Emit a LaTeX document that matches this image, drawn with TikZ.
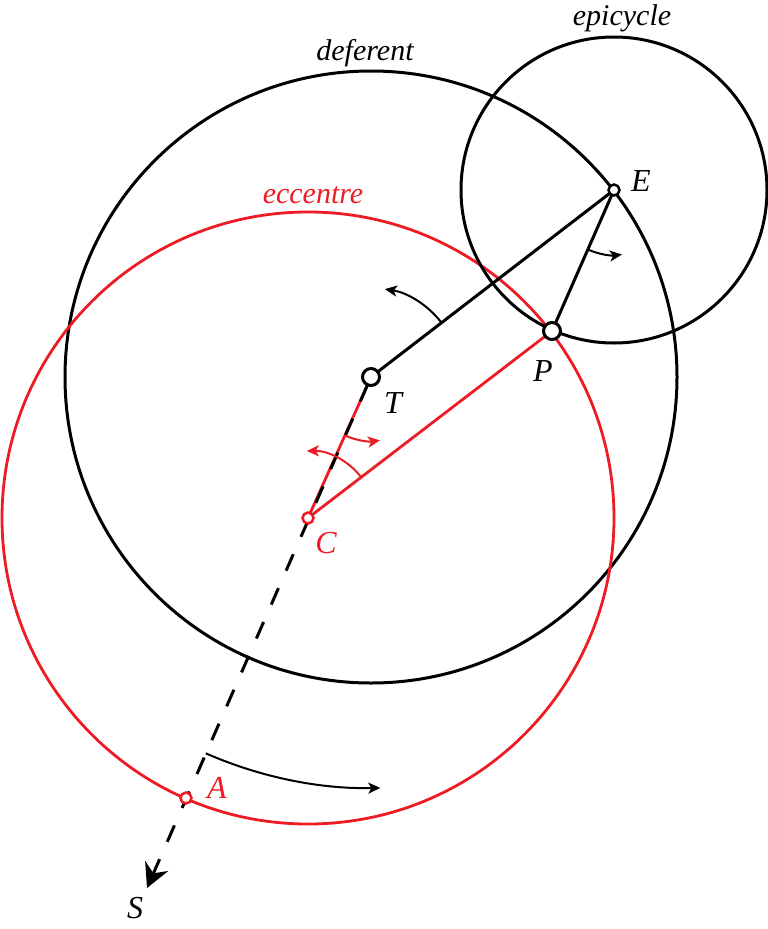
\documentclass[tikz,border=0pt]{standalone}
\usepackage{fontspec}
\setmainfont{Liberation Serif}[ItalicFont={Liberation Serif Italic}]
\usetikzlibrary{arrows.meta,calc}
\definecolor{ared}{RGB}{237,28,36}
\pgfdeclarelayer{bg}
\pgfdeclarelayer{mid}
\pgfsetlayers{bg,mid,main}
\begin{document}
\begin{tikzpicture}[x=1pt,y=-1pt,
  lbl/.style={font=\fontsize{30}{36}\selectfont\itshape, anchor=base, inner sep=0pt},
  ltr/.style={font=\fontsize{32}{38}\selectfont\itshape, anchor=base, inner sep=0pt},
  bigpt/.style={circle, draw=black, line width=3pt, fill=white, minimum size=17pt, inner sep=0pt, outer sep=0pt},
  smpt/.style={circle, draw=black, line width=2.5pt, fill=white, minimum size=11pt, inner sep=0pt, outer sep=0pt},
  redpt/.style={smpt, draw=ared},
  orbit/.style={line width=3pt},
  redorbit/.style={line width=2.8pt, draw=ared},
  blackline/.style={line width=3pt},
  redline/.style={line width=2.8pt, draw=ared},
  apsis/.style={line width=3pt, dash pattern=on 18pt off 19pt, -{Stealth[length=24pt,width=25pt,inset=8pt]}},
  turn/.style={line width=2pt, -{Stealth[length=12pt,width=11pt,inset=3pt]}},
  redturn/.style={turn, draw=ared}
]
\useasboundingbox (0,0) rectangle (768,929);
% points
\node[bigpt] (T) at (371,377) {};
\node[bigpt] (P) at (552,331) {};
\node[smpt] (E) at (614,190) {};
\node[redpt] (C) at (308,518) {};
\node[redpt] (A) at (186,798) {};
\coordinate (S) at (147,888);
% circles
\begin{pgfonlayer}{bg}
\draw[orbit] (T.center) circle[radius=306];
\draw[redorbit] (C.center) circle[radius=306];
\draw[orbit] (E.center) circle[radius=153];
\end{pgfonlayer}
% lines
\begin{pgfonlayer}{mid}
\draw[blackline] (T) -- (E);
\draw[blackline] (E) -- (P);
\draw[redline] (C) -- (P);
\draw[redline] (T) -- (C);
\draw[apsis] (T) -- (S);
\end{pgfonlayer}
% motion arrows
\draw[turn] ($(T.center)+(-37.6:89)$) arc[start angle=-37.6, end angle=-81, radius=89];
\draw[turn] ($(E.center)+(113.7:65)$) arc[start angle=113.7, end angle=83, radius=65];
\draw[redturn] ($(T.center)+(114.1:64)$) arc[start angle=114.1, end angle=82, radius=64];
\draw[redturn] ($(C.center)+(-37.5:67)$) arc[start angle=-37.5, end angle=-91, radius=67];
\draw[turn] ($(T.center)+(113.7:411)$) arc[start angle=113.7, end angle=88.7, radius=411];
% labels
\node[lbl] (deflbl) at (365,60) {deferent};
\node[lbl] (epilbl) at (622,25) {epicycle};
\node[lbl, text=ared] (ecclbl) at (313,203) {eccentre};
\node[ltr] (Elbl) at (641,191) {E};
\node[ltr] (Plbl) at (543,381) {P};
\node[ltr] (Tlbl) at (393,413) {T};
\node[ltr, text=ared] (Clbl) at (326,553) {C};
\node[ltr, text=ared] (Albl) at (217,798) {A};
\node[ltr] (Slbl) at (135,918) {S};
\end{tikzpicture}
\end{document}
